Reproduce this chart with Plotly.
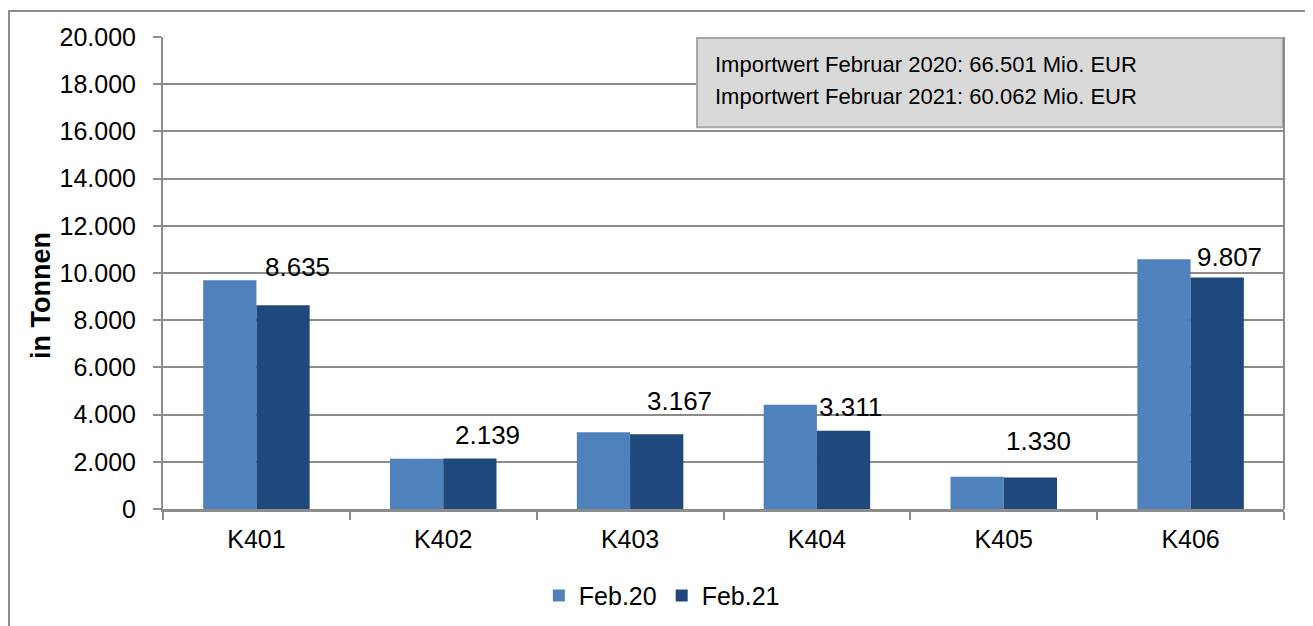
import plotly.graph_objects as go

# Importmengen in Tonnen
categories = ["K401", "K402", "K403", "K404", "K405", "K406"]
feb20 = [9690, 2130, 3250, 4420, 1370, 10580]
feb21 = [8635, 2139, 3167, 3311, 1330, 9807]
label_text = ["8.635", "2.139", "3.167", "3.311", "1.330", "9.807"]

info_lines = ["Importwert Februar 2020: 66.501 Mio. EUR",
              "Importwert Februar 2021: 60.062 Mio. EUR"]

# manual label placement (pixels) like in the Excel original
label_dx = [14, 17, 22, 7, 8, 12]
label_dy = [38, 24, 33, 24, 37, 21]

FONT = "Liberation Sans, Arial, sans-serif"
C20 = "#4f81bd"
C21 = "#1f497d"
GRID = "#8c8c8c"

fig = go.Figure()
fig.add_trace(go.Bar(x=categories, y=feb20, name="Feb.20",
                     marker=dict(color=C20, line=dict(width=0))))
fig.add_trace(go.Bar(x=categories, y=feb21, name="Feb.21",
                     marker=dict(color=C21, line=dict(width=0))))

for i, cat in enumerate(categories):
    fig.add_annotation(x=cat, y=feb21[i], xref="x", yref="y",
                       text=label_text[i], showarrow=False,
                       xanchor="center", yanchor="middle",
                       xshift=27 + label_dx[i], yshift=label_dy[i],
                       font=dict(size=26, color="black", family=FONT))

# info box
fig.add_shape(type="rect", xref="paper", yref="paper",
              x0=0.4764, x1=0.9991, y0=0.809, y1=0.998,
              fillcolor="#d9d9d9", line=dict(color="#a6a6a6", width=2))
for line, ypos in zip(info_lines, [0.9407, 0.8729]):
    fig.add_annotation(x=0.4906, y=ypos, xref="paper", yref="paper",
                       xanchor="left", yanchor="middle", text=line,
                       showarrow=False,
                       font=dict(size=22, color="black", family=FONT))

# y axis title (sits a bit below the axis middle in the original)
fig.add_annotation(x=-0.1088, y=0.4513, xref="paper", yref="paper",
                   text="<b>in Tonnen</b>", textangle=-90, showarrow=False,
                   xanchor="center", yanchor="middle",
                   font=dict(size=27, color="black", family=FONT))

# outer chart frame
fig.add_shape(type="rect", xref="paper", yref="paper",
              x0=-0.1374, x1=1.0214, y0=-0.28, y1=1.0551,
              line=dict(color="#8c8c8c", width=2), layer="below")

fig.update_layout(
    width=1305, height=618,
    margin=dict(l=155, r=29, t=29, b=117, autoexpand=False),
    paper_bgcolor="white", plot_bgcolor="white",
    barmode="group", bargap=0.43, bargroupgap=0,
    font=dict(family=FONT, size=24, color="black"),
    separators=",.",
    showlegend=True,
    legend=dict(orientation="h", x=0.445, y=-0.184,
                xanchor="center", yanchor="middle",
                font=dict(size=25), itemwidth=30, traceorder="normal"),
)
fig.update_xaxes(showline=True, linecolor=GRID, linewidth=3,
                 ticks="outside", tickson="boundaries", ticklen=8,
                 tickcolor=GRID, tickwidth=2, showgrid=False,
                 automargin=False, tickfont=dict(size=25),
                 ticklabelstandoff=6)
fig.update_yaxes(range=[0, 20000], dtick=2000, tickformat=",d",
                 showline=True, linecolor=GRID, linewidth=2,
                 ticks="outside", ticklen=8, tickcolor=GRID, tickwidth=2,
                 showgrid=True, gridcolor=GRID, gridwidth=2,
                 ticklabelstandoff=12, zeroline=False, automargin=False,
                 tickfont=dict(size=25))

# right border of the plot area
fig.add_shape(type="line", xref="paper", yref="paper",
              x0=1, x1=1, y0=0, y1=1,
              line=dict(color=GRID, width=2))

fig.write_html("out.html")
